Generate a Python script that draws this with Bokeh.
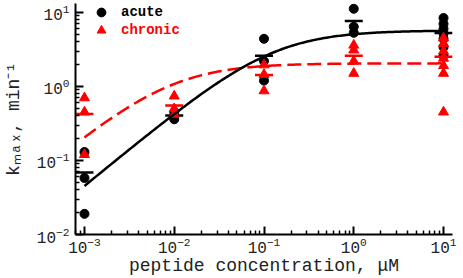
import numpy as np
from bokeh.plotting import figure
from bokeh.models import FixedTicker, LogTickFormatter, Legend, LegendItem
from bokeh.embed import file_html
from bokeh.resources import INLINE

# ---- data ----
acute_conc = [0.001, 0.001, 0.001,
              0.01, 0.01, 0.01,
              0.1, 0.1, 0.1,
              1, 1, 1,
              10, 10, 10, 10, 10, 10, 10]
acute_kmax = [0.13, 0.058, 0.019,
              0.45, 0.40, 0.36,
              4.4, 2.2, 1.2,
              11.2, 6.4, 5.3,
              8.4, 7.0, 6.0, 5.2, 4.4, 3.4, 2.6]

chronic_conc = [0.001, 0.001, 0.001,
                0.01, 0.01, 0.01,
                0.1, 0.1, 0.1,
                1, 1, 1, 1,
                10, 10, 10, 10, 10, 10, 10]
chronic_kmax = [0.70, 0.45, 0.12,
                0.74, 0.50, 0.42,
                1.95, 1.45, 0.87,
                3.6, 3.1, 2.2, 1.5,
                4.5, 3.8, 3.0, 2.4, 1.9, 1.5, 0.45]

# fitted saturation curves  kmax = Kmax * c / (c + K)
acute_fit_Kmax, acute_fit_K = 5.7, 0.125
chronic_fit_Kmax, chronic_fit_K = 2.05, 0.009

x_ticks = [1e-3, 1e-2, 1e-1, 1, 10]
y_ticks = [1e-2, 1e-1, 1, 10]


def group_means(conc, vals):
    c = np.array(conc)
    v = np.array(vals)
    u = np.unique(c)
    return list(u), [float(v[c == k].mean()) for k in u]


FONT = "Liberation Mono"

p = figure(width=463, height=278, x_axis_type="log", y_axis_type="log",
           x_range=(10 ** -3.1, 10 ** 1.1), y_range=(1e-2, 10 ** 1.12),
           output_backend="svg", toolbar_location=None,
           min_border_left=74, min_border_right=11, min_border_top=3,
           min_border_bottom=42)
p.outline_line_color = None
p.grid.visible = False
p.background_fill_color = "white"

minor = [m * 10.0 ** e for e in range(-4, 2) for m in range(2, 10)]
p.xaxis.ticker = FixedTicker(ticks=x_ticks, minor_ticks=minor)
p.yaxis.ticker = FixedTicker(ticks=y_ticks, minor_ticks=minor)
p.xaxis.formatter = LogTickFormatter()
p.yaxis.formatter = LogTickFormatter()

for ax in (p.xaxis[0], p.yaxis[0]):
    ax.axis_line_width = 2
    ax.axis_line_color = "black"
    ax.major_tick_in = 8
    ax.major_tick_out = 0
    ax.minor_tick_in = 4
    ax.minor_tick_out = 0
    ax.major_tick_line_width = 2
    ax.minor_tick_line_width = 1.5
    ax.major_tick_line_color = "black"
    ax.minor_tick_line_color = "black"
    ax.major_label_text_font = FONT
    ax.major_label_text_font_size = "16px"
    ax.major_label_text_color = "#222222"
    ax.axis_label_text_font = FONT
    ax.axis_label_text_font_size = "18px"
    ax.axis_label_text_font_style = "normal"
    ax.axis_label_text_color = "#222222"

p.xaxis.axis_label = "peptide concentration, μM"
p.yaxis.axis_label = "kₘₐₓ, min⁻¹"
p.xaxis.major_label_standoff = 2
p.xaxis.axis_label_standoff = 0
p.yaxis.major_label_standoff = 6
p.yaxis.axis_label_standoff = 10

# points and means
ra = p.scatter(acute_conc, acute_kmax, marker="circle", size=9,
               fill_color="black", line_color="black")
am_x, am_y = group_means(acute_conc, acute_kmax)
p.scatter(am_x, am_y, marker="dash", size=18, line_color="black", line_width=2.5)

rc = p.scatter(chronic_conc, chronic_kmax, marker="triangle", size=10,
               fill_color="red", line_color="red")
cm_x, cm_y = group_means(chronic_conc, chronic_kmax)
p.scatter(cm_x, cm_y, marker="dash", size=18, line_color="red", line_width=2.5)

# fit curves
xf = np.logspace(-3, 1, 200)
p.line(xf, chronic_fit_Kmax * xf / (xf + chronic_fit_K), line_color="red",
       line_width=2.5, line_dash="14 6")
p.line(xf, acute_fit_Kmax * xf / (xf + acute_fit_K), line_color="black",
       line_width=2.5)

common = dict(border_line_color=None, background_fill_alpha=0, padding=0,
              margin=0, spacing=0, glyph_width=22, glyph_height=22,
              label_height=22, label_standoff=9, label_text_font=FONT,
              label_text_font_style="bold", label_text_font_size="14px")
leg_a = Legend(items=[LegendItem(label="acute", renderers=[ra])],
               location=(15, 211), label_text_color="black", **common)
leg_c = Legend(items=[LegendItem(label="chronic", renderers=[rc])],
               location=(15, 193), label_text_color="red", **common)
p.add_layout(leg_a)
p.add_layout(leg_c)

with open("out.html", "w") as f:
    f.write(file_html(p, INLINE, title="kmax"))
